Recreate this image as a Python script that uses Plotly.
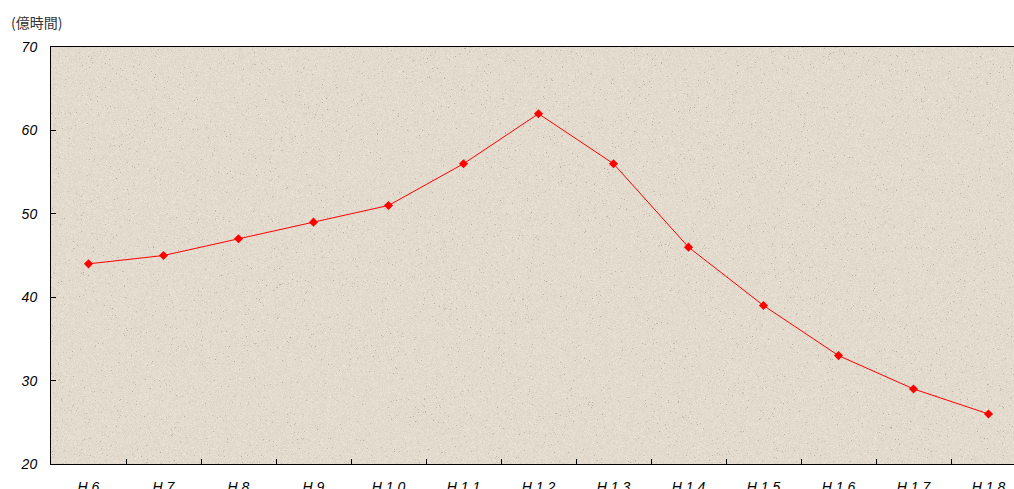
import base64
import struct
import zlib

import numpy as np
import plotly.graph_objects as go

# 年度別の時間（億時間）
years = ["H 6", "H 7", "H 8", "H 9", "H 1 0", "H 1 1", "H 1 2",
         "H 1 3", "H 1 4", "H 1 5", "H 1 6", "H 1 7", "H 1 8"]
hours = [44, 45, 47, 49, 51, 56, 62, 56, 46, 39, 33, 29, 26]
y_ticks = [20, 30, 40, 50, 60, 70]


def paper_texture(w, h):
    """Speckled beige paper texture encoded as a PNG data URI."""
    rng = np.random.default_rng(7)
    base = np.array([226, 219, 206], dtype=float)
    noise = rng.normal(0, 4.0, (h, w, 1))
    img = base + noise
    # sparse dark speckles
    dots = rng.random((h, w)) < 0.012
    img[dots] -= rng.uniform(15, 45, dots.sum())[:, None]
    img = np.clip(img, 0, 255).astype(np.uint8)
    raw = b"".join(b"\x00" + img[r].tobytes() for r in range(h))

    def chunk(tag, data):
        c = struct.pack(">I", len(data)) + tag + data
        return c + struct.pack(">I", zlib.crc32(tag + data) & 0xFFFFFFFF)

    png = (b"\x89PNG\r\n\x1a\n"
           + chunk(b"IHDR", struct.pack(">IIBBBBB", w, h, 8, 2, 0, 0, 0))
           + chunk(b"IDAT", zlib.compress(raw, 9))
           + chunk(b"IEND", b""))
    return "data:image/png;base64," + base64.b64encode(png).decode()


fig = go.Figure()
fig.add_trace(go.Scatter(
    x=years, y=hours, mode="lines+markers",
    line=dict(color="#ff0000", width=1),
    marker=dict(symbol="diamond", size=7, color="#ff0000"),
    hoverinfo="x+y",
))

fig.add_layout_image(dict(
    source=paper_texture(963, 417),
    xref="paper", yref="paper", x=0, y=1, sizex=1, sizey=1,
    xanchor="left", yanchor="top", sizing="stretch", layer="below",
))

tick_font = dict(family="Liberation Sans, Arial, sans-serif", size=14,
                 color="#000000", style="italic")

fig.update_layout(
    width=1014, height=489,
    margin=dict(l=51, r=0, t=47, b=25, autoexpand=False),
    paper_bgcolor="#ffffff",
    plot_bgcolor="#e2dbce",
    showlegend=False,
    xaxis=dict(
        type="category", range=[-0.5, 12.34], automargin=False,
        showgrid=False, zeroline=False,
        showline=True, linecolor="#000000", linewidth=1, mirror=True,
        ticks="inside", ticklen=5, tickcolor="#000000",
        tickson="boundaries",
        tickfont=tick_font, ticklabelstandoff=10,
    ),
    yaxis=dict(
        range=[20, 70], tickvals=y_ticks, automargin=False,
        showgrid=False, zeroline=False,
        showline=True, linecolor="#000000", linewidth=1,
        ticks="inside", ticklen=5, tickcolor="#000000",
        tickfont=tick_font, ticklabelstandoff=10,
    ),
    annotations=[dict(
        text="(億時間)", xref="paper", yref="paper",
        x=-42 / 963, y=1 + 25 / 417, xanchor="left", yanchor="middle",
        showarrow=False,
        font=dict(family="Noto Sans CJK JP", size=14, color="#333333"),
    )],
)

fig.write_html("out.html")
